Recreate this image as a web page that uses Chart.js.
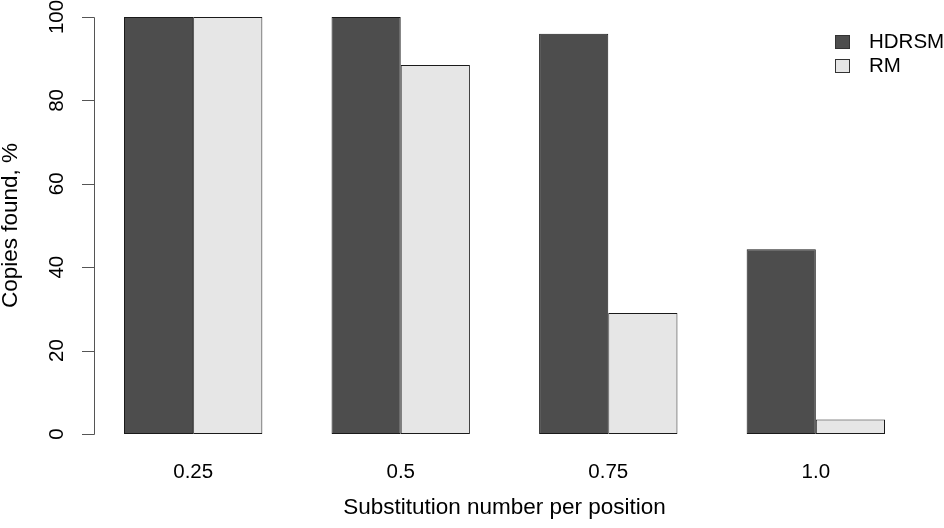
<!DOCTYPE html>
<html>
<head>
<meta charset="utf-8">
<title>Copies found</title>
<script src="https://cdn.jsdelivr.net/npm/chart.js@4/dist/chart.umd.min.js"></script>
<style>
  html, body { margin: 0; padding: 0; background: #fff; }
  .chart-box { width: 944px; height: 528px; }
</style>
</head>
<body>
<div class="chart-box"><canvas id="chart" width="944" height="528"></canvas></div>
<script>
const CATEGORIES = ['0.25', '0.5', '0.75', '1.0'];
const HDRSM_VALUES = [100, 100, 96, 44.3];
const RM_VALUES = [100, 88.5, 29, 3.5];
const Y_TICKS = [0, 20, 40, 60, 80, 100];

const FONT = '"Liberation Sans", Arial, sans-serif';
const TICK_SIZE = 20.5;
const TITLE_SIZE = 22.5;
const DARK = '#4d4d4d';
const LIGHT = '#e6e6e6';
const EDGE = '#1a1a1a';

/**
 * R-style left axis: line, outward ticks and rotated labels.
 */
const rAxisPlugin = {
  id: 'rAxis',
  afterDraw(chart) {
    const { ctx } = chart;
    const y = chart.scales.y;
    const axisX = 94.5;
    ctx.save();
    ctx.strokeStyle = '#555';
    ctx.lineWidth = 1;
    ctx.beginPath();
    ctx.moveTo(axisX, Math.round(y.getPixelForValue(Y_TICKS[0])) + 0.5);
    ctx.lineTo(axisX, Math.round(y.getPixelForValue(Y_TICKS[Y_TICKS.length - 1])) + 0.5);
    Y_TICKS.forEach((t) => {
      const py = Math.round(y.getPixelForValue(t)) + 0.5;
      ctx.moveTo(82, py);
      ctx.lineTo(axisX, py);
    });
    ctx.stroke();

    ctx.fillStyle = '#000';
    ctx.font = `${TICK_SIZE}px ${FONT}`;
    ctx.textAlign = 'center';
    ctx.textBaseline = 'middle';
    Y_TICKS.forEach((t) => {
      ctx.save();
      ctx.translate(57, y.getPixelForValue(t));
      ctx.rotate(-Math.PI / 2);
      ctx.fillText(String(t), 0, 0);
      ctx.restore();
    });

    ctx.font = `${TITLE_SIZE}px ${FONT}`;
    ctx.save();
    ctx.translate(11, (chart.chartArea.top + chart.chartArea.bottom) / 2);
    ctx.rotate(-Math.PI / 2);
    ctx.fillText('Copies found, %', 0, 0);
    ctx.restore();
    ctx.restore();
  },
};

/**
 * Legend box in the top right corner, like R's legend().
 */
const rLegendPlugin = {
  id: 'rLegend',
  afterDraw(chart) {
    const { ctx } = chart;
    ctx.save();
    ctx.font = `${TICK_SIZE}px ${FONT}`;
    ctx.textAlign = 'left';
    ctx.textBaseline = 'middle';
    chart.data.datasets.forEach((ds, i) => {
      const top = 35 + i * 24;
      ctx.fillStyle = ds.backgroundColor;
      ctx.fillRect(835.5, top + 0.5, 14, 13);
      ctx.strokeStyle = '#333';
      ctx.lineWidth = 1;
      ctx.strokeRect(835.5, top + 0.5, 14, 13);
      ctx.fillStyle = '#000';
      ctx.fillText(ds.label, 869, top + 7);
    });
    ctx.restore();
  },
};

const chart = new Chart(document.getElementById('chart'), {
  type: 'bar',
  data: {
    labels: CATEGORIES,
    datasets: [
      {
        label: 'HDRSM',
        data: HDRSM_VALUES,
        backgroundColor: DARK,
        borderColor: EDGE,
        borderWidth: 1,
        borderSkipped: false,
      },
      {
        label: 'RM',
        data: RM_VALUES,
        backgroundColor: LIGHT,
        borderColor: EDGE,
        borderWidth: 1,
        borderSkipped: false,
      },
    ],
  },
  options: {
    responsive: false,
    animation: false,
    devicePixelRatio: 1,
    layout: { padding: { left: 89.4, right: 24.4, top: 17, bottom: 0 } },
    datasets: { bar: { categoryPercentage: 2 / 3, barPercentage: 1 } },
    plugins: {
      legend: { display: false },
      tooltip: { enabled: false },
    },
    scales: {
      x: {
        grid: { display: false, drawTicks: false },
        border: { display: false },
        ticks: { color: '#000', padding: 26.2, font: { family: FONT, size: TICK_SIZE } },
        title: {
          display: true,
          text: 'Substitution number per position',
          color: '#000',
          font: { family: FONT, size: TITLE_SIZE },
          // tick padding is counted twice in the scale height, the negative top evens it out
          padding: { top: -16.5, bottom: 6.5 },
        },
      },
      y: {
        display: false,
        min: 0,
        max: 100,
      },
    },
  },
  plugins: [rAxisPlugin, rLegendPlugin],
});
</script>
</body>
</html>
